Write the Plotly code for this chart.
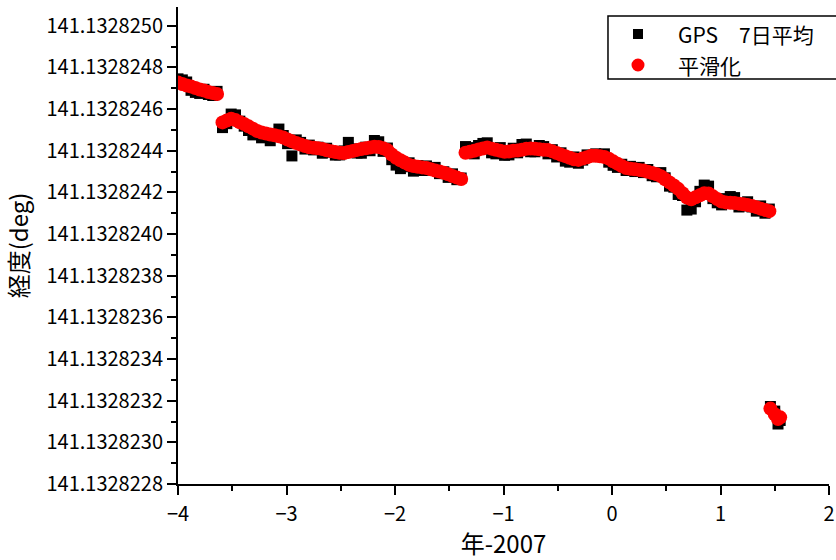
import plotly.graph_objects as go

# Time axis: decimal year minus 2007
YEAR_2003 = [-4.00, -3.96, -3.92, -3.88, -3.84, -3.80, -3.76, -3.72, -3.68, -3.64]
YEAR_2003_2005 = [-3.59, -3.55, -3.51, -3.47, -3.43, -3.39, -3.35, -3.31, -3.27, -3.23,
                  -3.19, -3.15, -3.11, -3.07, -3.03, -2.99, -2.95, -2.91, -2.87, -2.83,
                  -2.79, -2.75, -2.71, -2.67, -2.63, -2.59, -2.55, -2.51, -2.47, -2.43,
                  -2.39, -2.35, -2.31, -2.27, -2.23, -2.19, -2.15, -2.11, -2.07, -2.03,
                  -1.99, -1.95, -1.91, -1.87, -1.83, -1.79, -1.75, -1.71, -1.67, -1.63,
                  -1.59, -1.55, -1.51, -1.47, -1.43, -1.39]
YEAR_2005_2008 = [-1.35, -1.31, -1.27, -1.23, -1.19, -1.15, -1.11, -1.07, -1.03, -0.99,
                  -0.95, -0.91, -0.87, -0.83, -0.79, -0.75, -0.71, -0.67, -0.63, -0.59,
                  -0.55, -0.51, -0.47, -0.43, -0.39, -0.35, -0.31, -0.27, -0.23, -0.19,
                  -0.15, -0.11, -0.07, -0.03, 0.01, 0.05, 0.09, 0.13, 0.17, 0.21,
                  0.25, 0.29, 0.33, 0.37, 0.41, 0.45, 0.49, 0.53, 0.57, 0.61,
                  0.65, 0.69, 0.73, 0.77, 0.81, 0.85, 0.89, 0.93, 0.97, 1.01,
                  1.05, 1.09, 1.13, 1.17, 1.21, 1.25, 1.29, 1.33, 1.37, 1.41, 1.45]
YEAR_2008_TAIL = [1.46, 1.50, 1.53, 1.55]

# Longitude (deg), GPS 7-day average
GPS_2003 = [141.132824745, 141.132824740, 141.132824730, 141.132824690, 141.132824680,
            141.132824675, 141.132824695, 141.132824670, 141.132824665, 141.132824685]
GPS_2003_2005 = [141.132824511, 141.132824530, 141.132824576, 141.132824572, 141.132824542,
                 141.132824518, 141.132824497, 141.132824476, 141.132824485, 141.132824462,
                 141.132824478, 141.132824448, 141.132824479, 141.132824504, 141.132824473,
                 141.132824434, 141.132824375, 141.132824452, 141.132824440, 141.132824408,
                 141.132824427, 141.132824404, 141.132824417, 141.132824388, 141.132824412,
                 141.132824393, 141.132824379, 141.132824380, 141.132824399, 141.132824440,
                 141.132824409, 141.132824389, 141.132824388, 141.132824417, 141.132824400,
                 141.132824449, 141.132824443, 141.132824397, 141.132824413, 141.132824357,
                 141.132824331, 141.132824314, 141.132824323, 141.132824342, 141.132824302,
                 141.132824328, 141.132824305, 141.132824327, 141.132824306, 141.132824320,
                 141.132824290, 141.132824299, 141.132824272, 141.132824289, 141.132824261,
                 141.132824269]
GPS_2005_2008 = [141.132824420, 141.132824415, 141.132824385, 141.132824425, 141.132824435,
                 141.132824438, 141.132824390, 141.132824385, 141.132824415, 141.132824378,
                 141.132824380, 141.132824412, 141.132824390, 141.132824430, 141.132824432,
                 141.132824395, 141.132824395, 141.132824425, 141.132824420, 141.132824385,
                 141.132824405, 141.132824370, 141.132824390, 141.132824350, 141.132824345,
                 141.132824370, 141.132824340, 141.132824355, 141.132824380, 141.132824372,
                 141.132824385, 141.132824382, 141.132824385, 141.132824345, 141.132824330,
                 141.132824320, 141.132824335, 141.132824305, 141.132824325, 141.132824300,
                 141.132824320, 141.132824295, 141.132824310, 141.132824280, 141.132824275,
                 141.132824295, 141.132824270, 141.132824230, 141.132824225, 141.132824190,
                 141.132824185, 141.132824115, 141.132824120, 141.132824155, 141.132824205,
                 141.132824235, 141.132824230, 141.132824170, 141.132824150, 141.132824140,
                 141.132824170, 141.132824180, 141.132824175, 141.132824130, 141.132824135,
                 141.132824155, 141.132824130, 141.132824110, 141.132824135, 141.132824100,
                 141.132824120]
GPS_2008_TAIL = [141.132823172, 141.132823150, 141.132823088, 141.132823105]

# Longitude (deg), smoothed
SMOOTH_2003 = [141.132824727, 141.132824720, 141.132824713, 141.132824708, 141.132824701,
               141.132824694, 141.132824689, 141.132824682, 141.132824677, 141.132824672]
SMOOTH_2003_2005 = [141.132824536, 141.132824545, 141.132824554, 141.132824547, 141.132824537,
                    141.132824528, 141.132824517, 141.132824506, 141.132824495, 141.132824487,
                    141.132824483, 141.132824478, 141.132824474, 141.132824469, 141.132824463,
                    141.132824454, 141.132824445, 141.132824437, 141.132824430, 141.132824423,
                    141.132824417, 141.132824414, 141.132824412, 141.132824408, 141.132824402,
                    141.132824398, 141.132824394, 141.132824390, 141.132824389, 141.132824394,
                    141.132824399, 141.132824404, 141.132824408, 141.132824412, 141.132824415,
                    141.132824419, 141.132824418, 141.132824412, 141.132824403, 141.132824382,
                    141.132824366, 141.132824354, 141.132824343, 141.132824332, 141.132824327,
                    141.132824323, 141.132824320, 141.132824317, 141.132824311, 141.132824305,
                    141.132824300, 141.132824294, 141.132824287, 141.132824279, 141.132824271,
                    141.132824264]
SMOOTH_2005_2008 = [141.132824390, 141.132824395, 141.132824400, 141.132824406, 141.132824411,
                    141.132824416, 141.132824410, 141.132824405, 141.132824400, 141.132824395,
                    141.132824396, 141.132824400, 141.132824401, 141.132824405, 141.132824409,
                    141.132824411, 141.132824409, 141.132824407, 141.132824405, 141.132824403,
                    141.132824397, 141.132824389, 141.132824381, 141.132824374, 141.132824366,
                    141.132824359, 141.132824356, 141.132824363, 141.132824369, 141.132824376,
                    141.132824376, 141.132824373, 141.132824370, 141.132824362, 141.132824349,
                    141.132824338, 141.132824327, 141.132824317, 141.132824313, 141.132824311,
                    141.132824308, 141.132824305, 141.132824299, 141.132824293, 141.132824287,
                    141.132824278, 141.132824263, 141.132824248, 141.132824233, 141.132824217,
                    141.132824196, 141.132824175, 141.132824167, 141.132824177, 141.132824186,
                    141.132824196, 141.132824195, 141.132824181, 141.132824168, 141.132824156,
                    141.132824152, 141.132824150, 141.132824149, 141.132824146, 141.132824143,
                    141.132824140, 141.132824135, 141.132824129, 141.132824122, 141.132824116,
                    141.132824110]
SMOOTH_2008_TAIL = [141.132823162, 141.132823135, 141.132823112, 141.132823120]

X_TICKS = [-4, -3, -2, -1, 0, 1, 2]
Y_TICKS = [141.1328228, 141.1328230, 141.1328232, 141.1328234, 141.1328236, 141.1328238,
           141.1328240, 141.1328242, 141.1328244, 141.1328246, 141.1328248, 141.1328250]
Y_TICK_TEXT = ["%.7f" % v for v in Y_TICKS]

SERIES_NAMES = ["GPS\u30007日平均", "平滑化"]

years = YEAR_2003 + YEAR_2003_2005 + YEAR_2005_2008 + YEAR_2008_TAIL
gps = GPS_2003 + GPS_2003_2005 + GPS_2005_2008 + GPS_2008_TAIL
smooth = SMOOTH_2003 + SMOOTH_2003_2005 + SMOOTH_2005_2008 + SMOOTH_2008_TAIL

FONT = "Noto Sans CJK JP, Noto Sans, sans-serif"
RED = "#ff0000"

fig = go.Figure()
fig.add_trace(go.Scatter(
    x=years, y=gps, mode="markers", name=SERIES_NAMES[0],
    marker=dict(symbol="square", size=11, color="black", line=dict(width=0)),
))
fig.add_trace(go.Scatter(
    x=years, y=smooth, mode="markers", name=SERIES_NAMES[1],
    marker=dict(symbol="circle", size=14, color=RED, line=dict(width=0)),
))

axis_common = dict(
    showline=True, linecolor="black", linewidth=2,
    ticks="outside", tickcolor="black", tickwidth=2, ticklen=9,
    showgrid=False, zeroline=False, mirror=False, automargin=False,
    tickfont=dict(family=FONT, size=20, color="black"),
)

fig.update_xaxes(
    range=[-4, 2], tickvals=X_TICKS, ticklabelstandoff=2,
    minor=dict(dtick=0.5, ticks="outside", ticklen=5, tickwidth=2, tickcolor="black"),
    title=dict(text="年-2007", font=dict(family=FONT, size=24, color="black")),
    **axis_common,
)
fig.update_yaxes(
    range=[141.1328228, 141.13282509], tickvals=Y_TICKS, ticktext=Y_TICK_TEXT,
    minor=dict(dtick=1e-7, tick0=141.1328228, ticks="outside", ticklen=5, tickwidth=2,
               tickcolor="black"),
    title=dict(text="経度(deg)", font=dict(family=FONT, size=24, color="black")),
    **axis_common,
)

# Boxed legend in the upper right; the frame runs past the right edge of the page
LEG_LEFT, LEG_TOP, LEG_BOTTOM, LEG_RIGHT = 0.6605, 0.9811, 0.8491, 1.06
LEG_SYMBOL_X, LEG_TEXT_X = 0.7066, 0.7665
LEG_ROWS_Y = [0.9434, 0.8784]

fig.add_shape(type="rect", xref="paper", yref="paper",
              x0=LEG_LEFT, x1=LEG_RIGHT, y0=LEG_BOTTOM, y1=LEG_TOP,
              line=dict(color="black", width=1.5), fillcolor="white", layer="above")
fig.add_shape(type="rect", xref="paper", yref="paper",
              xsizemode="pixel", ysizemode="pixel",
              xanchor=LEG_SYMBOL_X, yanchor=LEG_ROWS_Y[0],
              x0=-5, x1=5, y0=-5, y1=5,
              line=dict(width=0), fillcolor="black", layer="above")
fig.add_shape(type="circle", xref="paper", yref="paper",
              xsizemode="pixel", ysizemode="pixel",
              xanchor=LEG_SYMBOL_X, yanchor=LEG_ROWS_Y[1],
              x0=-6.5, x1=6.5, y0=-6.5, y1=6.5,
              line=dict(width=0), fillcolor=RED, layer="above")
for name, row_y in zip(SERIES_NAMES, LEG_ROWS_Y):
    fig.add_annotation(xref="paper", yref="paper", x=LEG_TEXT_X, y=row_y,
                       xanchor="left", yanchor="middle", text=name, showarrow=False,
                       borderpad=0, font=dict(family=FONT, size=21, color="black"))

fig.update_layout(
    width=836, height=560,
    margin=dict(l=178, r=7, t=7, b=76),
    paper_bgcolor="white", plot_bgcolor="white",
    showlegend=False,
)

fig.write_html("out.html")
